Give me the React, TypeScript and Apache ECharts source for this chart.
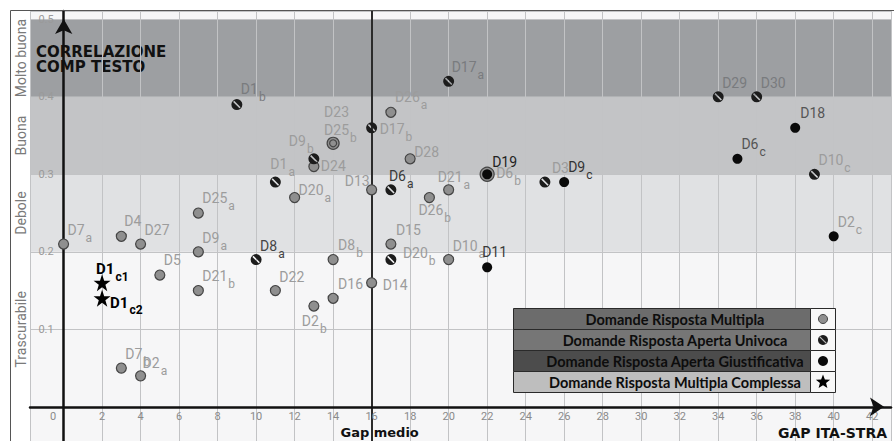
import React, { useEffect, useRef } from 'react';
import * as echarts from 'echarts';

// ---------------- DATA ----------------
// Domande Risposta Multipla
const multiplaNames = ['D7_a', 'D4', 'D27', 'D25_a', 'D9_a', 'D5', 'D21_b', 'D22', 'D2_b', 'D16', 'D14', 'D8_b', 'D15', 'D10_a', 'D21_a', 'D26_b', 'D28', 'D13', 'D6_b', 'D20_a', 'D24', 'D25_b', 'D23', 'D26_a', 'D7_b', 'D2_a'];
const multiplaGap = [0, 3, 4, 7, 7, 5, 7, 11, 13, 14, 16, 14, 17, 20, 20, 19, 18, 16, 22, 12, 13, 14, 14, 17, 3, 4];
const multiplaCorr = [0.21, 0.22, 0.21, 0.25, 0.20, 0.17, 0.15, 0.15, 0.13, 0.14, 0.16, 0.19, 0.21, 0.19, 0.28, 0.27, 0.32, 0.28, 0.30, 0.27, 0.31, 0.34, 0.34, 0.38, 0.05, 0.04];

// Domande Risposta Aperta Univoca
const univocaNames = ['D1_b', 'D1_a', 'D9_b', 'D17_b', 'D17_a', 'D6_a', 'D3', 'D29', 'D30', 'D10_c', 'D8_a', 'D20_b'];
const univocaGap = [9, 11, 13, 16, 20, 17, 25, 34, 36, 39, 10, 17];
const univocaCorr = [0.39, 0.29, 0.32, 0.36, 0.42, 0.28, 0.29, 0.40, 0.40, 0.30, 0.19, 0.19];

// Domande Risposta Aperta Giustificativa
const giustNames = ['D19', 'D9_c', 'D18', 'D6_c', 'D2_c', 'D11'];
const giustGap = [22, 26, 38, 35, 40, 22];
const giustCorr = [0.30, 0.29, 0.36, 0.32, 0.22, 0.18];

// Domande Risposta Multipla Complessa
const complNames = ['D1_c1', 'D1_c2'];
const complGap = [2, 2];
const complCorr = [0.16, 0.14];

const bandNames = ['Trascurabile', 'Debole', 'Buona', 'Molto buona'];
const bandLimits = [0, 0.2, 0.3, 0.4, 0.5];
const legendNames = ['Domande Risposta Multipla', 'Domande Risposta Aperta Univoca', 'Domande Risposta Aperta Giustificativa', 'Domande Risposta Multipla Complessa'];
const gapMedio = 16;
const titleText = 'CORRELAZIONE\nCOMP TESTO';
const xName = 'GAP ITA-STRA';
const gapMedioName = 'Gap medio';

// ---------------- LAYOUT / STYLE ----------------
const GRID_LEFT = 30, GRID_TOP = 11, W = 894, H = 441;
const X_MIN = -1.744;
const X_MAX = 42.976;
const Y_MIN = -0.0441;
const Y_MAX = 0.5107;
// offsets that bring each axis line to the other axis' zero
const X_AXIS_OFFSET = -((0 - Y_MIN) / (Y_MAX - Y_MIN)) * (H - GRID_TOP);
const Y_AXIS_OFFSET = -((0 - X_MIN) / (X_MAX - X_MIN)) * (W - GRID_LEFT);

// label placement: [dx, dy of main text centre, align]
const labelPlace: Record<string, [number, number, string?]> = {
  D7_a: [4, -13], D4: [3, -14], D27: [4, -13], D25_a: [4, -14], D9_a: [4, -13], D5: [4, -14],
  D21_b: [4, -14], D22: [4, -13], D2_b: [-12, 16], D16: [5, -13], D14: [11, 3], D8_b: [5, -14],
  D15: [5, -13], D10_a: [4, -13], D21_a: [-11, -12], D26_b: [-11, 13], D28: [4, -6],
  D13: [-2, -8, 'right'], D6_b: [9, 0], D20_a: [4, -7], D24: [7, 0], D25_b: [-9, -12],
  D23: [-9, -30], D26_a: [4, -14], D7_b: [4, -13], D2_a: [2, -12],
  D1_b: [4, -15], D1_a: [-5, -17], D9_b: [-25, -17], D17_b: [8, 2], D17_a: [3, -13],
  D6_a: [-2, -13], D3: [7, -13], D29: [4, -13], D30: [4, -13], D10_c: [4, -13], D8_a: [4, -13],
  D20_b: [12, -6],
  D19: [5, -11], D9_c: [4, -14], D18: [5, -14], D6_c: [4, -14], D2_c: [4, -13], D11: [-5, -14],
  D1_c1: [-6, -13], D1_c2: [8, 5],
};
const labelColor: Record<string, string> = {
  D19: '#222', D9_c: '#333', D6_a: '#3a3a3a', D8_a: '#444', D11: '#3a3a3a', D18: '#555',
  D6_c: '#555', D1_c1: '#000', D1_c2: '#000',
  D1_b: '#797b7e', D17_a: '#797b7e', D29: '#797b7e', D30: '#797b7e',
};
const symbolSizeOverride: Record<string, number> = { D6_b: 14, D25_b: 12, D23: 7 };

const univocaSymbol = 'path://M0,5A5,5,0,1,1,10,5A5,5,0,1,1,0,5Z M1.6,2.6L7.4,8.4L8.4,7.4L2.6,1.6Z';
const starSymbol = 'path://M50,0L62,35L99,35L69,57L80,93L50,71L20,93L31,57L1,35L38,35Z';

function makeItems(names: string[], xs: number[], ys: number[]) {
  return names.map((n, i) => {
    const parts = n.split('_');
    const main = parts[0];
    const sub = parts[1];
    const p = labelPlace[n] || [4, -13];
    const color = labelColor[n] || '#9c9c9c';
    const big = n.startsWith('D1_c');
    const item: any = {
      name: n,
      value: [xs[i], ys[i]],
      label: {
        show: true,
        position: 'inside',
        align: p[2] || 'left',
        verticalAlign: 'top',
        offset: [p[0], p[1] - 8],
        color,
        textBorderWidth: 0,
        formatter: sub ? `{m|${main}}{s|${sub}}` : `{m|${main}}`,
        rich: {
          m: { fontFamily: 'Roboto', fontSize: big ? 15 : 14, lineHeight: 16, verticalAlign: 'top', color, fontWeight: big ? 'bold' : 'normal' },
          s: { fontFamily: 'Roboto', fontSize: 12, lineHeight: 12, verticalAlign: 'top', padding: [9, 0, 0, 1], color, fontWeight: big ? 'bold' : 'normal' },
        },
      },
    };
    if (symbolSizeOverride[n]) item.symbolSize = symbolSizeOverride[n];
    return item;
  });
}

function starPoints(cx: number, cy: number, R: number, r: number) {
  const pts: number[][] = [];
  for (let i = 0; i < 10; i++) {
    const a = -Math.PI / 2 + (i * Math.PI) / 5;
    const rad = i % 2 === 0 ? R : r;
    pts.push([cx + rad * Math.cos(a), cy + rad * Math.sin(a)]);
  }
  return pts;
}

const bandColors = ['rgba(0,0,0,0)', '#e0e1e3', '#c3c4c6', '#9d9fa2'];

export default function App() {
  const ref = useRef<HTMLDivElement>(null);
  useEffect(() => {
    const chart = echarts.init(ref.current!, null, { renderer: 'svg' });
    const option: any = {
      animation: false,
      backgroundColor: '#ffffff',
      grid: { left: GRID_LEFT, right: 0, top: GRID_TOP, bottom: 0, show: true, backgroundColor: '#f6f6f7', borderWidth: 0 },
      xAxis: {
        type: 'value',
        min: X_MIN,
        max: X_MAX,
        minInterval: 2,
        maxInterval: 2,
        z: 2,
        offset: X_AXIS_OFFSET,
        axisLine: { onZero: false, lineStyle: { color: '#111', width: 2.5 }, symbol: ['none', 'arrow'], symbolSize: [14, 14], symbolOffset: [0, -7] },
        axisTick: { show: false },
        splitLine: { show: true, lineStyle: { color: '#c2c3c5', width: 1 } },
        axisLabel: {
          margin: 4,
          color: '#8a8a8a',
          fontSize: 11,
          fontFamily: 'Roboto',
          formatter: (v: number) => {
            if (Math.abs(v - Math.round(v / 2) * 2) > 1e-6) return '';
            if (Math.abs(v) < 1e-9) return '{z|0}';
            return String(Math.round(v));
          },
          rich: { z: { padding: [0, 21, 0, 0], color: '#8a8a8a', fontSize: 11, fontFamily: 'Roboto' } },
        },
      },
      yAxis: {
        type: 'value',
        min: Y_MIN,
        max: Y_MAX,
        minInterval: 0.1,
        maxInterval: 0.1,
        z: 2,
        offset: Y_AXIS_OFFSET,
        axisLine: { onZero: false, lineStyle: { color: '#111', width: 2.5 }, symbol: ['none', 'arrow'], symbolSize: [13, 15], symbolOffset: [0, -8] },
        axisTick: { show: false },
        splitLine: { show: true, lineStyle: { color: '#c2c3c5', width: 1 } },
        axisLabel: {
          margin: 10,
          color: '#9a9a9a',
          fontSize: 11,
          fontFamily: 'Roboto',
          formatter: (v: number) => {
            const k = Math.round(v * 10);
            if (Math.abs(v * 10 - k) > 1e-6 || k === 0) return '';
            return (k / 10).toFixed(1);
          },
        },
      },
      series: [
        {
          type: 'scatter',
          name: legendNames[0],
          z: 3,
          symbol: 'circle',
          symbolSize: 10,
          itemStyle: { color: '#8f8f8f', borderColor: '#444', borderWidth: 1.2, opacity: 1 },
          data: makeItems(multiplaNames, multiplaGap, multiplaCorr),
          markArea: {
            silent: true,
            z: 1,
            data: bandLimits.slice(0, 4).map((lo, i) => [
              { yAxis: lo, itemStyle: { color: bandColors[i] } },
              { yAxis: bandLimits[i + 1] },
            ]).filter((_, i) => i > 0),
          },
          markLine: {
            silent: true,
            z: 2,
            symbol: ['none', 'none'],
            label: { show: false },
            lineStyle: { color: '#2b2b2b', width: 2, type: 'solid' },
            data: [{ xAxis: gapMedio }],
          },
        },
        {
          type: 'scatter',
          name: legendNames[1],
          z: 3,
          symbol: univocaSymbol,
          symbolSize: 11,
          itemStyle: { color: '#1c1c1c', opacity: 1 },
          data: makeItems(univocaNames, univocaGap, univocaCorr),
        },
        {
          type: 'scatter',
          name: legendNames[2],
          z: 3,
          symbol: 'circle',
          symbolSize: 10,
          itemStyle: { color: '#0a0a0a', opacity: 1 },
          data: makeItems(giustNames, giustGap, giustCorr),
        },
        {
          type: 'scatter',
          name: legendNames[3],
          z: 3,
          symbol: starSymbol,
          symbolSize: 17,
          itemStyle: { color: '#000', opacity: 1 },
          data: makeItems(complNames, complGap, complCorr),
        },
      ],
    };
    chart.setOption(option);

    const px = (x: number, y: number) => chart.convertToPixel({ gridIndex: 0 } as any, [x, y]) as number[];
    const elements: any[] = [];
    // frame
    elements.push({ type: 'rect', z: 20, silent: true, shape: { x: 10.5, y: 10.5, width: 900, height: 450 }, style: { fill: 'none', stroke: '#555', lineWidth: 1 } });
    // title
    elements.push({ type: 'text', z: 1, x: 36, y: 44, style: { text: titleText, font: 'bold 15px "DejaVu Sans"', fill: '#111', lineHeight: 15, align: 'left', verticalAlign: 'top' } });
    // band labels
    bandNames.forEach((b, i) => {
      const p = px(0, (bandLimits[i] + bandLimits[i + 1]) / 2);
      elements.push({ type: 'text', z: 5, x: 21, y: p[1], rotation: Math.PI / 2, style: { text: b, font: '14px Roboto', fill: '#7a7a7a', align: 'center', verticalAlign: 'middle' } });
    });
    // axis names
    const pg = px(gapMedio, 0);
    elements.push({ type: 'text', z: 5, x: pg[0] + 8, y: 432, style: { text: gapMedioName, font: 'bold 13px "DejaVu Sans"', fill: '#111', align: 'center', verticalAlign: 'middle' } });
    elements.push({ type: 'text', z: 5, x: 887, y: 433, style: { text: xName, font: 'bold 14px "DejaVu Sans"', fill: '#111', align: 'right', verticalAlign: 'middle' } });
    // legend table
    const lx0 = 513, lx1 = 810, lx2 = 835, ly0 = 308, rowH = 21;
    const rowFill = ['#6c6c6c', '#767676', '#4c4c4c', '#bebebe'];
    legendNames.forEach((n, i) => {
      const y = ly0 + i * rowH;
      elements.push({ type: 'rect', z: 10, shape: { x: lx0 + 0.5, y: y + 0.5, width: lx1 - lx0, height: rowH }, style: { fill: rowFill[i], stroke: '#2a2a2a', lineWidth: 1 } });
      elements.push({ type: 'rect', z: 10, shape: { x: lx1 + 0.5, y: y + 0.5, width: lx2 - lx1, height: rowH }, style: { fill: '#f8f8f8', stroke: '#2a2a2a', lineWidth: 1 } });
      elements.push({ type: 'text', z: 11, x: 675, y: y + rowH / 2 + 1, style: { text: n, font: 'bold 14.5px Lato', fill: '#0d0d0d', align: 'center', verticalAlign: 'middle' } });
      const cx = (lx1 + lx2) / 2 + 0.5, cy = y + rowH / 2 + 0.5;
      if (i === 0) {
        elements.push({ type: 'circle', z: 11, shape: { cx, cy, r: 4.5 }, style: { fill: '#8f8f8f', stroke: '#444', lineWidth: 1 } });
      } else if (i === 1) {
        elements.push({ type: 'circle', z: 11, shape: { cx, cy, r: 5 }, style: { fill: '#1c1c1c' } });
        elements.push({ type: 'line', z: 12, shape: { x1: cx - 3.2, y1: cy - 3.2, x2: cx + 3.2, y2: cy + 3.2 }, style: { stroke: '#bbb', lineWidth: 1.2 } });
      } else if (i === 2) {
        elements.push({ type: 'circle', z: 11, shape: { cx, cy, r: 5 }, style: { fill: '#0a0a0a' } });
      } else {
        elements.push({ type: 'polygon', z: 11, shape: { points: starPoints(cx, cy, 7.5, 3.2) }, style: { fill: '#000' } });
      }
    });
    chart.setOption({ graphic: { elements } });
    return () => chart.dispose();
  }, []);
  return <div ref={ref} style={{ position: 'absolute', left: 0, top: 0, width: 894, height: 441 }} />;
}
